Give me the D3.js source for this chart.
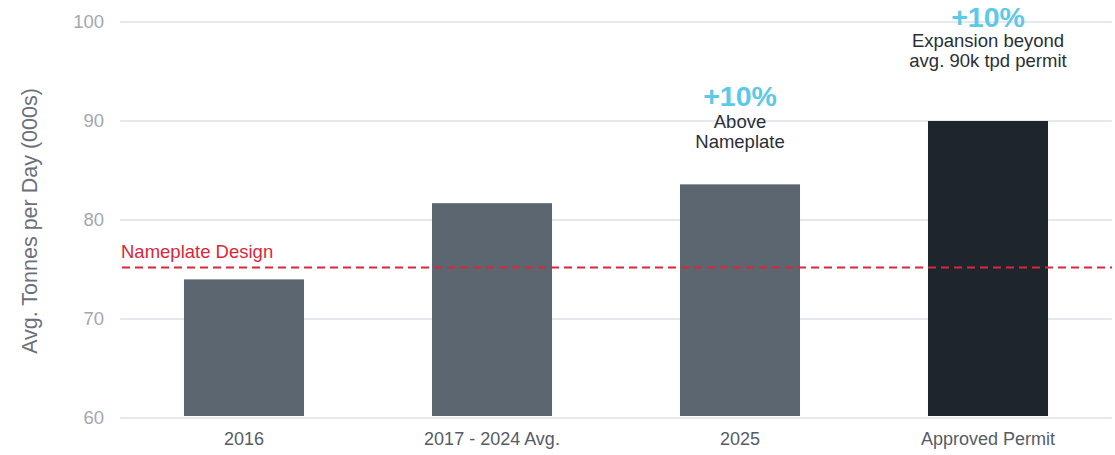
<!DOCTYPE html>
<html lang="en">
<head>
<meta charset="UTF-8">
<script src="https://d3js.org/d3.v7.min.js"></script>
<title>Tonnes per Day</title>
<style>
  body { margin: 0; background: #fff; }
  text { font-family: "Liberation Sans", Arial, sans-serif; }
</style>
</head>
<body>
<svg id="chart" width="1115" height="455"></svg>
<script>
// data
const categories = ["2016", "2017 - 2024 Avg.", "2025", "Approved Permit"];
const values = [74.0, 81.7, 83.6, 90.0];
const barColors = ["#5c6670", "#5c6670", "#5c6670", "#1f252d"];
const yTicks = [60, 70, 80, 90, 100];
const nameplate = 75.2;
const notes = [
  { cat: "2025", big: "+10%", lines: ["Above", "Nameplate"], at: 89.3 },
  { cat: "Approved Permit", big: "+10%", lines: ["Expansion beyond", "avg. 90k tpd permit"], at: 97.45 }
];

const svg = d3.select("#chart");
const x0 = 120, x1 = 1112, yTop = 22, yBot = 418;

const x = d3.scaleBand().domain(categories).range([x0, x1]).paddingInner(0.516).paddingOuter(0.258);
const y = d3.scaleLinear().domain([60, 100]).range([yBot, yTop]);

// grid
svg.append("g").selectAll("line").data(yTicks).join("line")
  .attr("x1", x0).attr("x2", x1)
  .attr("y1", d => y(d)).attr("y2", d => y(d))
  .attr("stroke", "#dde1e8").attr("stroke-width", 1.5);

// y tick labels
svg.append("g").selectAll("text").data(yTicks).join("text")
  .attr("x", 104).attr("y", d => y(d)).attr("dy", "0.35em")
  .attr("text-anchor", "end").attr("font-size", 18.5).attr("fill", "#a3a8ae")
  .text(d => d);

// y title
svg.append("text")
  .attr("transform", `translate(37,${(yTop + yBot) / 2 + 1}) rotate(-90)`)
  .attr("text-anchor", "middle").attr("font-size", 21.5).attr("fill", "#6b7079")
  .text("Avg. Tonnes per Day (000s)");

// bars
svg.append("g").selectAll("rect").data(categories).join("rect")
  .attr("x", d => x(d)).attr("width", x.bandwidth())
  .attr("y", (d, i) => y(values[i]))
  .attr("height", (d, i) => y(60) - 2 - y(values[i]))
  .attr("fill", (d, i) => barColors[i]);

// x labels
svg.append("g").selectAll("text").data(categories).join("text")
  .attr("x", d => x(d) + x.bandwidth() / 2).attr("y", 445)
  .attr("text-anchor", "middle").attr("font-size", 18).attr("fill", "#555c66")
  .text(d => d);

// nameplate line
svg.append("line")
  .attr("x1", x0 + 2).attr("x2", x1)
  .attr("y1", y(nameplate)).attr("y2", y(nameplate))
  .attr("stroke", "#d8283a").attr("stroke-width", 1.8).attr("stroke-dasharray", "8,5");
svg.append("text")
  .attr("x", x0 + 1).attr("y", y(nameplate) - 10)
  .attr("font-size", 18.5).attr("fill", "#d8283a")
  .text("Nameplate Design");

// annotations
notes.forEach(n => {
  const cx = x(n.cat) + x.bandwidth() / 2;
  const by = y(n.at);
  svg.append("text").attr("x", cx).attr("y", Math.max(by - 22, 27))
    .attr("text-anchor", "middle").attr("font-size", 28.5).attr("font-weight", "bold")
    .attr("fill", "#5bc9e8").text(n.big);
  n.lines.forEach((l, i) => {
    svg.append("text").attr("x", cx).attr("y", by + i * 20)
      .attr("text-anchor", "middle").attr("font-size", 18.5).attr("fill", "#2a2f36")
      .text(l);
  });
});
</script>
</body>
</html>
